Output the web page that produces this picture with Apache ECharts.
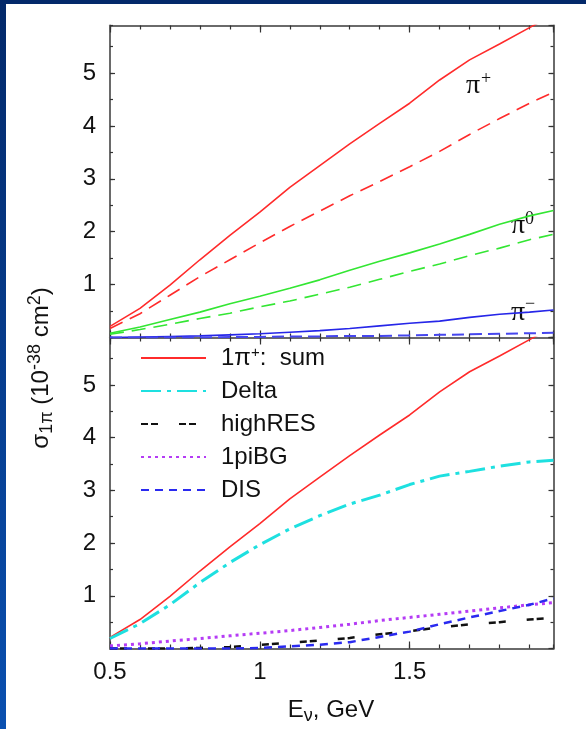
<!DOCTYPE html>
<html><head><meta charset="utf-8">
<script src="https://cdn.jsdelivr.net/npm/echarts@6/dist/echarts.min.js"></script>
<style>html,body{margin:0;padding:0;background:#fff}#c{width:586px;height:729px}</style>
</head><body><div id="c"></div>
<script>
// ---- data ----
const energy = [0.5,0.6,0.7,0.8,0.9,1.0,1.1,1.2,1.3,1.4,1.5,1.6,1.7,1.8,1.9,1.98];
// top panel
const piPlusSum   = [0.21,0.55,0.99,1.47,1.93,2.37,2.84,3.25,3.66,4.05,4.43,4.87,5.25,5.55,5.86,6.10];
const piPlusDash  = [0.17,0.45,0.80,1.15,1.47,1.79,2.10,2.39,2.68,2.95,3.23,3.52,3.84,4.14,4.43,4.64];
const piZeroSum   = [0.08,0.20,0.34,0.48,0.64,0.78,0.93,1.09,1.27,1.44,1.60,1.77,1.95,2.14,2.30,2.40];
const piZeroDash  = [0.06,0.15,0.25,0.36,0.46,0.58,0.69,0.82,0.95,1.10,1.25,1.39,1.55,1.69,1.85,1.95];
const piMinusSum  = [0.00,0.01,0.02,0.03,0.05,0.07,0.10,0.13,0.17,0.22,0.27,0.31,0.38,0.44,0.48,0.52];
const piMinusDash = [0.00,0.00,0.00,0.00,0.01,0.01,0.02,0.02,0.03,0.03,0.04,0.05,0.06,0.07,0.08,0.09];
// bottom panel
const deltaVals   = [0.19,0.47,0.83,1.25,1.63,1.97,2.27,2.52,2.74,2.91,3.11,3.27,3.36,3.46,3.54,3.57];
const highRES     = [0.00,0.00,0.00,0.01,0.03,0.07,0.11,0.15,0.20,0.27,0.33,0.40,0.46,0.50,0.55,0.58];
const piBG        = [0.05,0.09,0.14,0.19,0.24,0.29,0.34,0.40,0.46,0.53,0.59,0.65,0.71,0.77,0.83,0.87];
const disVals     = [0.00,0.00,0.00,0.00,0.00,0.01,0.04,0.07,0.12,0.22,0.32,0.46,0.59,0.71,0.83,0.95];
// ticks / labels
const xTickLabels = [0.5, 1, 1.5];
const yTickLabels = [1, 2, 3, 4, 5];
const legendNames = ['sum', 'Delta', 'highRES', '1piBG', 'DIS'];

const X_MIN = 0.5, X_MAX = 1.98, Y_MIN = 0, Y_MAX = 5.9;
const FONT = '"Liberation Sans", Arial, sans-serif';
const SERIF = '"Liberation Serif", "Times New Roman", serif';
const AXC = '#6a6a6a', TICKC = '#333';

const pairs = vals => energy.map((e, i) => [e, vals[i]]);

function xAx(grid, pos, major, showLabel) {
  return {
    type: 'value', gridIndex: grid, position: pos, min: X_MIN, max: X_MAX,
    interval: major ? 0.5 : 0.1,
    axisLine: { show: !major, onZero: false, lineStyle: { color: AXC, width: 2 } },
    axisTick: { show: true, inside: true, length: major ? 7 : 4, lineStyle: { color: TICKC, width: 1.2 } },
    axisLabel: {
      show: showLabel, margin: 12, fontSize: 24, fontFamily: FONT, color: '#111',
      showMaxLabel: false,
      formatter: v => { const t = xTickLabels.find(t => Math.abs(t - v) < 1e-6); return t === undefined ? '' : String(t); }
    },
    splitLine: { show: false }
  };
}
function yAx(grid, pos, major, showLabel) {
  return {
    type: 'value', gridIndex: grid, position: pos, min: Y_MIN, max: Y_MAX,
    interval: major ? 1 : 0.5,
    axisLine: { show: !major, onZero: false, lineStyle: { color: AXC, width: 2 } },
    axisTick: { show: true, inside: true, length: major ? 5 : 3, lineStyle: { color: TICKC, width: 1.2 } },
    axisLabel: {
      show: showLabel, margin: 14, fontSize: 24, fontFamily: FONT, color: '#111',
      showMaxLabel: false, showMinLabel: false,
      formatter: v => { const t = yTickLabels.find(t => Math.abs(t - v) < 1e-6); return t === undefined ? '' : String(t); }
    },
    splitLine: { show: false }
  };
}

const xAxes = [], yAxes = [];
[0, 1].forEach(g => {
  xAxes.push(xAx(g, 'bottom', false, false));
  xAxes.push(xAx(g, 'bottom', true, g === 1));
  xAxes.push(xAx(g, 'top', false, false));
  xAxes.push(xAx(g, 'top', true, false));
  yAxes.push(yAx(g, 'left', false, false));
  yAxes.push(yAx(g, 'left', true, true));
  yAxes.push(yAx(g, 'right', false, false));
  yAxes.push(yAx(g, 'right', true, false));
});

function line(name, grid, vals, color, width, type) {
  return {
    name, type: 'line', xAxisIndex: grid * 4, yAxisIndex: grid * 4,
    data: pairs(vals), symbol: 'none', showSymbol: false, smooth: false, clip: true,
    lineStyle: { color, width, type: type || 'solid' }, itemStyle: { color },
    emphasis: { disabled: true }, animation: false
  };
}

const RED = '#ff2b2b', GREEN = '#33e633', BLUE = '#2626e8', CYAN = '#1ee0e0',
      BLACK = '#111', PURPLE = '#b53cf5', DISBLUE = '#2a2af0';

const series = [
  line('piPlusTop', 0, piPlusSum, RED, 1.6),
  line('piPlusDash', 0, piPlusDash, RED, 1.6, [14, 8]),
  line('piZeroTop', 0, piZeroSum, GREEN, 1.6),
  line('piZeroDash', 0, piZeroDash, GREEN, 1.6, [14, 8]),
  line('piMinusTop', 0, piMinusSum, BLUE, 1.6),
  line('piMinusDash', 0, piMinusDash, '#4646ee', 2, [12, 6]),
  line('sum', 1, piPlusSum, RED, 1.6),
  line('Delta', 1, deltaVals, CYAN, 3, [20, 6, 4, 6]),
  line('highRES', 1, highRES, BLACK, 2.5, [7, 3, 7, 21]),
  line('1piBG', 1, piBG, PURPLE, 3, [3, 4]),
  line('DIS', 1, disVals, DISBLUE, 2.5, [8, 6])
];

const chart = echarts.init(document.getElementById('c'), null, { renderer: 'canvas' });
chart.setOption({
  backgroundColor: '#fff',
  animation: false,
  grid: [
    { left: 110, top: 25.5, width: 443.5, height: 312, outerBoundsMode: 'none', containLabel: false },
    { left: 110, top: 337.5, width: 443.5, height: 311, outerBoundsMode: 'none', containLabel: false }
  ],
  xAxis: xAxes,
  yAxis: yAxes,
  legend: {
    orient: 'vertical', left: 140, top: 345, padding: 0,
    itemWidth: 65, itemHeight: 10, itemGap: 7, selectedMode: false,
    data: legendNames,
    itemStyle: { opacity: 0, borderWidth: 0 },
    formatter: n => n === 'sum' ? '{m|1π}{sp|+}{m|:  sum}' : '{m|' + n + '}',
    textStyle: {
      fontSize: 24, fontFamily: FONT, color: '#111', lineHeight: 26, padding: [0, 0, 0, 10],
      rich: {
        m: { fontSize: 24, fontFamily: FONT, color: '#111', lineHeight: 26 },
        sp: { fontSize: 15, fontFamily: FONT, color: '#111', lineHeight: 20, verticalAlign: 'top' }
      }
    }
  },
  graphic: [
    { type: 'rect', shape: { x: 0, y: 0, width: 586, height: 4 }, style: { fill: '#03296a' }, silent: true },
    { type: 'rect', shape: { x: 0, y: 0, width: 6, height: 729 }, silent: true,
      style: { fill: new echarts.graphic.LinearGradient(0, 0, 0, 1, [
        { offset: 0, color: '#03296a' }, { offset: 1, color: '#0a50b0' }]) } },
    // y-axis title
    { type: 'text', x: 41, y: 368, rotation: Math.PI / 2, silent: true,
      style: {
        text: '{m|σ}{sb|1π}{m| (10}{sp|-38}{m| cm}{sp|2}{m|)}',
        align: 'center', verticalAlign: 'middle', fill: '#111',
        rich: {
          m: { fontSize: 24, fontFamily: FONT, lineHeight: 30, fill: '#111' },
          sp: { fontSize: 18, fontFamily: FONT, lineHeight: 16, verticalAlign: 'top', fill: '#111' },
          sb: { fontSize: 18, fontFamily: FONT, lineHeight: 4, verticalAlign: 'bottom', fill: '#111' }
        }
      } },
    // x-axis title
    { type: 'text', x: 331, y: 710, silent: true,
      style: {
        text: '{m|E}{sb|ν}{m|, GeV}',
        align: 'center', verticalAlign: 'middle', fill: '#111',
        rich: {
          m: { fontSize: 24, fontFamily: FONT, lineHeight: 30, fill: '#111' },
          sb: { fontSize: 18, fontFamily: FONT, lineHeight: 20, verticalAlign: 'bottom', fill: '#111' }
        }
      } },
    // curve annotations
    { type: 'text', x: 466, y: 100, silent: true, style: { text: 'π', font: '28px ' + SERIF, fill: '#111', textBaseline: 'alphabetic', verticalAlign: 'bottom' } },
    { type: 'text', x: 481, y: 88, silent: true, style: { text: '+', font: '18px ' + SERIF, fill: '#111', textBaseline: 'alphabetic', verticalAlign: 'bottom' } },
    { type: 'text', x: 511, y: 240, silent: true, style: { text: 'π', font: '28px ' + SERIF, fill: '#111', textBaseline: 'alphabetic', verticalAlign: 'bottom' } },
    { type: 'text', x: 525, y: 228, silent: true, style: { text: '0', font: '18px ' + SERIF, fill: '#111', textBaseline: 'alphabetic', verticalAlign: 'bottom' } },
    { type: 'text', x: 511, y: 327, silent: true, style: { text: 'π', font: '28px ' + SERIF, fill: '#111', textBaseline: 'alphabetic', verticalAlign: 'bottom' } },
    { type: 'text', x: 525, y: 313, silent: true, style: { text: '−', font: '18px ' + SERIF, fill: '#111', textBaseline: 'alphabetic', verticalAlign: 'bottom' } }
  ],
  series
});
</script></body></html>
